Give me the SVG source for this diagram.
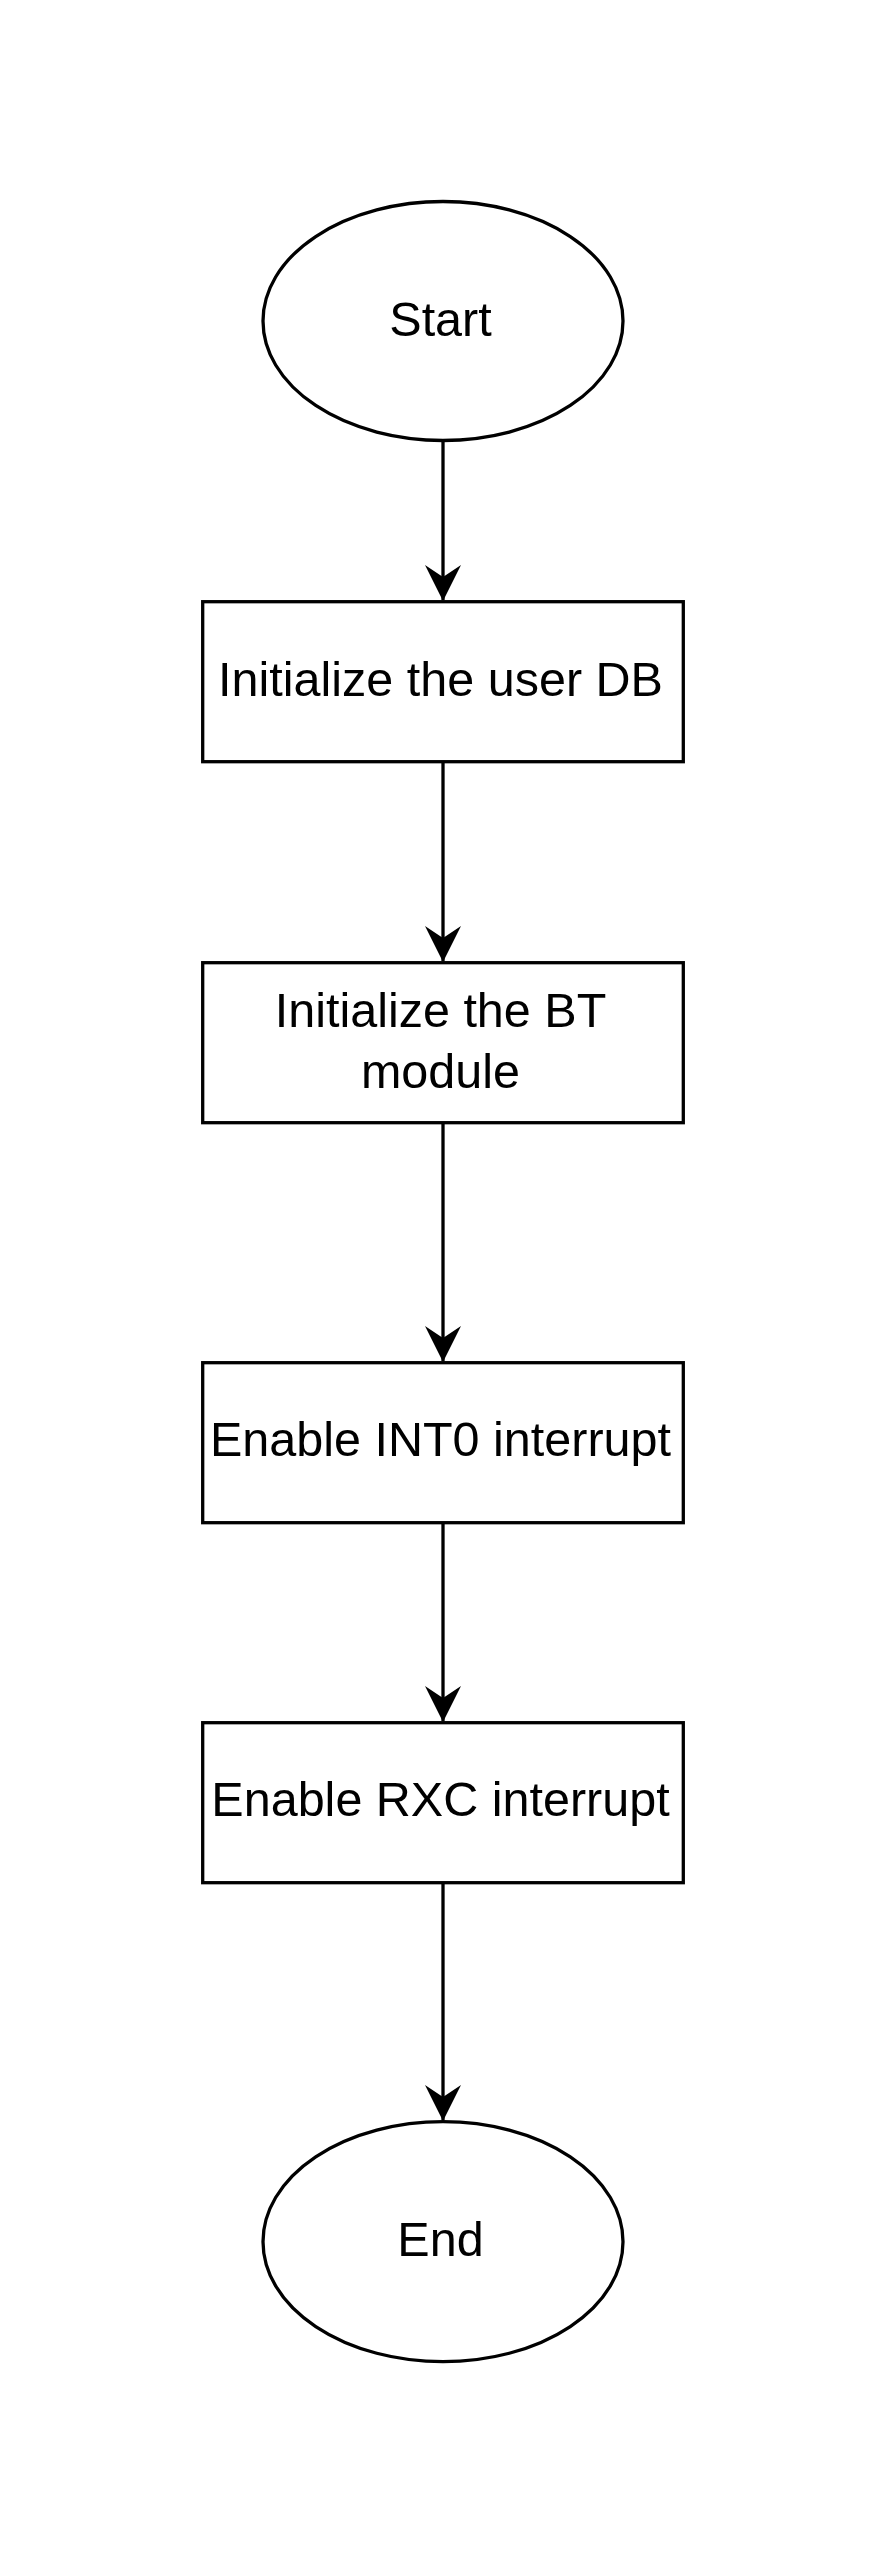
<svg xmlns="http://www.w3.org/2000/svg" width="884" height="2564" viewBox="0 0 884 2564">
<style>
.shape{fill:#ffffff;stroke:#000000;stroke-width:3.3}
.lbl{font-family:"Liberation Sans",Arial,sans-serif;font-size:48.5px;fill:#000000;text-anchor:middle}
.conn{stroke:#000000;stroke-width:3.3;fill:none}
</style>
<defs>
<marker id="arrow" markerUnits="userSpaceOnUse" viewBox="0 0 36 36" markerWidth="36" markerHeight="36" refX="35" refY="18" orient="auto">
<path d="M0,0 L36,18 L0,36 L12,18 Z" fill="#000000"/>
</marker>
</defs>
<rect width="884" height="2564" fill="#ffffff"/>
<g id="connectors">
<line class="conn" x1="443" y1="441" x2="443" y2="600" marker-end="url(#arrow)"/>
<line class="conn" x1="443" y1="762" x2="443" y2="961" marker-end="url(#arrow)"/>
<line class="conn" x1="443" y1="1123" x2="443" y2="1361" marker-end="url(#arrow)"/>
<line class="conn" x1="443" y1="1523" x2="443" y2="1721" marker-end="url(#arrow)"/>
<line class="conn" x1="443" y1="1883" x2="443" y2="2120" marker-end="url(#arrow)"/>
</g>
<g id="start">
<ellipse class="shape" cx="443" cy="321" rx="180" ry="119.5"/>
<text class="lbl" x="440.5" y="336">Start</text>
</g>
<g id="init-db">
<rect class="shape" x="202.7" y="601.7" width="480.6" height="160"/>
<text class="lbl" x="440.5" y="696">Initialize the user DB</text>
</g>
<g id="init-bt">
<rect class="shape" x="202.7" y="962.7" width="480.6" height="160"/>
<text class="lbl" x="440.5" y="1027">Initialize the BT</text>
<text class="lbl" x="440.5" y="1088">module</text>
</g>
<g id="int0">
<rect class="shape" x="202.7" y="1362.7" width="480.6" height="160"/>
<text class="lbl" x="440.5" y="1456">Enable INT0 interrupt</text>
</g>
<g id="rxc">
<rect class="shape" x="202.7" y="1722.7" width="480.6" height="160"/>
<text class="lbl" x="440.5" y="1816">Enable RXC interrupt</text>
</g>
<g id="end">
<ellipse class="shape" cx="443" cy="2241.7" rx="180" ry="120"/>
<text class="lbl" x="440.5" y="2256">End</text>
</g>
</svg>
